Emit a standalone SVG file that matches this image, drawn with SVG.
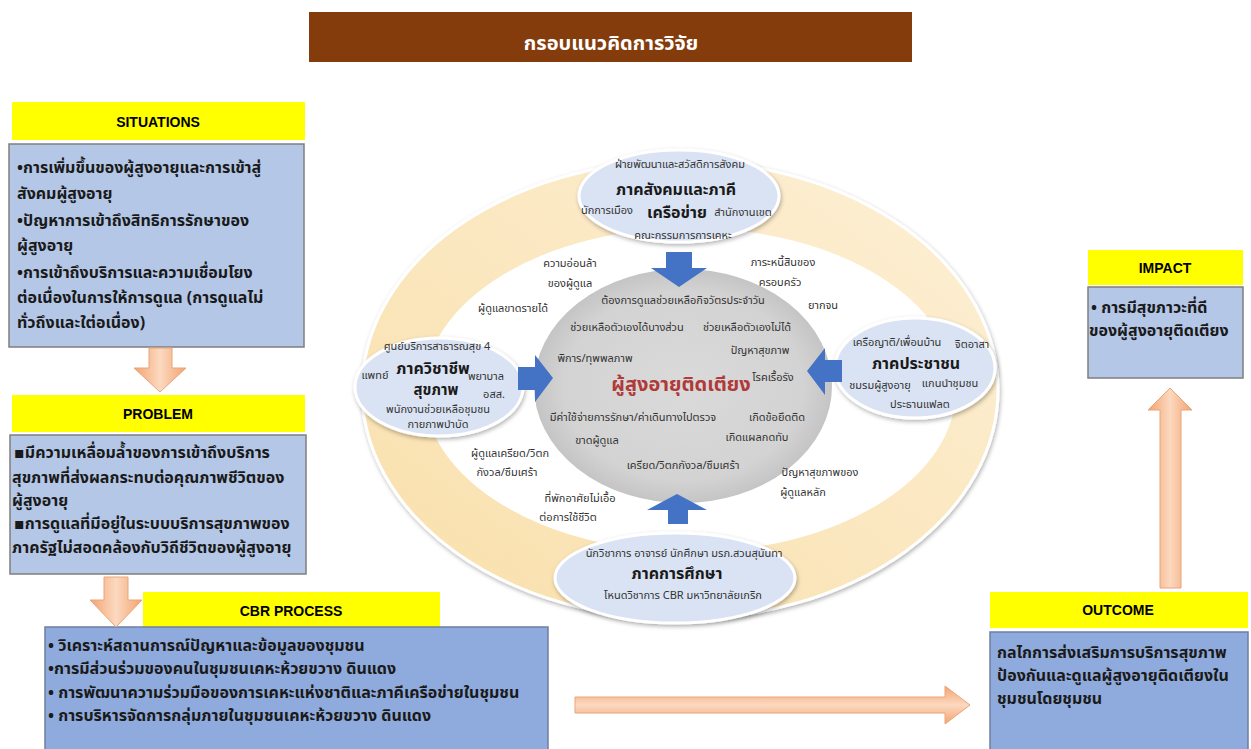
<svg xmlns="http://www.w3.org/2000/svg" width="1251" height="749" viewBox="0 0 1251 749">
<style>
.hd{font-family:"Liberation Sans",Arial,sans-serif;font-weight:bold;font-size:14px;fill:#000;text-anchor:middle}
.bx{font-family:"Noto Sans Thai","Tahoma","DejaVu Sans","Noto Sans",sans-serif;font-weight:bold;font-size:16px;fill:#1a1a1a}
.bx2{font-family:"Noto Sans Thai","Tahoma","DejaVu Sans","Noto Sans",sans-serif;font-weight:bold;font-size:16px;fill:#1a1a1a}
.sm{font-family:"Noto Sans Thai","Tahoma","DejaVu Sans","Noto Sans",sans-serif;font-size:11px;fill:#333;text-anchor:middle}
.lb{font-family:"Noto Sans Thai","Tahoma","DejaVu Sans","Noto Sans",sans-serif;font-weight:bold;font-size:16px;fill:#1a1a1a;text-anchor:middle}
.yel{fill:#FFFF00}
.lbox{fill:#B4C7E7;stroke:#7F7F7F;stroke-width:1.5}
.dbox{fill:#8FAADC;stroke:#6F7F9F;stroke-width:1.5}
.oarr{fill:url(#og);stroke:#E8A57A;stroke-width:1}
.oarrh{fill:url(#ogh);stroke:#E8A57A;stroke-width:1}
.barr{fill:#4472C4}
.ell{fill:#DAE3F3;stroke:#FFFFFF;stroke-width:3;filter:url(#sh)}
</style>
<defs>
<linearGradient id="og" x1="0" y1="0" x2="1" y2="0">
<stop offset="0" stop-color="#F4A36E"/><stop offset="0.5" stop-color="#FBD9C0"/><stop offset="1" stop-color="#F4A36E"/>
</linearGradient>
<linearGradient id="ogh" x1="0" y1="0" x2="0" y2="1">
<stop offset="0" stop-color="#F4A36E"/><stop offset="0.5" stop-color="#FBD9C0"/><stop offset="1" stop-color="#F4A36E"/>
</linearGradient>
<linearGradient id="ring" x1="0" y1="1" x2="1" y2="0">
<stop offset="0" stop-color="#F9DFAA"/><stop offset="1" stop-color="#FDF0D6"/>
</linearGradient>
<radialGradient id="gray" cx="0.5" cy="0.5" r="0.5">
<stop offset="0" stop-color="#DADADA"/><stop offset="0.8" stop-color="#D3D3D3"/><stop offset="1" stop-color="#C4C4C4"/>
</radialGradient>
<filter id="sh" x="-20%" y="-20%" width="140%" height="140%">
<feDropShadow dx="1" dy="2" stdDeviation="2" flood-color="#000" flood-opacity="0.3"/>
</filter>
</defs>

<g id="title">
<rect x="309" y="12" width="603" height="50" fill="#843C0C"/>
<text x="611" y="50" style="font-family:'Noto Sans Thai','Tahoma','DejaVu Sans',sans-serif;font-weight:bold;font-size:20px;fill:#fff;text-anchor:middle">กรอบแนวคิดการวิจัย</text>
</g>

<g id="situations">
<rect class="yel" x="12" y="102" width="293" height="38"/>
<text class="hd" x="158" y="127">SITUATIONS</text>
<rect class="lbox" x="9" y="144" width="295" height="203"/>
<text class="bx" x="17" y="173">•การเพิ่มขึ้นของผู้สูงอายุและการเข้าสู่</text>
<text class="bx" x="17" y="199">สังคมผู้สูงอายุ</text>
<text class="bx" x="17" y="226">•ปัญหาการเข้าถึงสิทธิการรักษาของ</text>
<text class="bx" x="17" y="251">ผู้สูงอายุ</text>
<text class="bx" x="17" y="278">•การเข้าถึงบริการและความเชื่อมโยง</text>
<text class="bx" x="17" y="303">ต่อเนื่องในการให้การดูแล (การดูแลไม่</text>
<text class="bx" x="17" y="328">ทั่วถึงและใต่อเนื่อง)</text>
</g>

<g id="problem">
<rect class="yel" x="12" y="395" width="293" height="37"/>
<text class="hd" x="158" y="419">PROBLEM</text>
<rect class="lbox" x="10" y="435" width="296" height="139"/>
<text class="bx2" x="14" y="458">▪มีความเหลื่อมล้ำของการเข้าถึงบริการ</text>
<text class="bx2" x="12" y="483">สุขภาพที่ส่งผลกระทบต่อคุณภาพชีวิตของ</text>
<text class="bx2" x="12" y="506">ผู้สูงอายุ</text>
<text class="bx2" x="14" y="529">▪การดูแลที่มีอยู่ในระบบบริการสุขภาพของ</text>
<text class="bx2" x="12" y="553">ภาครัฐไม่สอดคล้องกับวิถีชีวิตของผู้สูงอายุ</text>
</g>

<g id="cbr">
<rect class="yel" x="143" y="592" width="297" height="36"/>
<text class="hd" x="291" y="616">CBR PROCESS</text>
<rect class="dbox" x="45" y="627" width="503" height="130"/>
<text class="bx" x="48" y="651">• วิเคราะห์สถานการณ์ปัญหาและข้อมูลของชุมชน</text>
<text class="bx" x="48" y="674">•การมีส่วนร่วมของคนในชุมชนเคหะห้วยขวาง ดินแดง</text>
<text class="bx" x="48" y="698">• การพัฒนาความร่วมมือของการเคหะแห่งชาติและภาคีเครือข่ายในชุมชน</text>
<text class="bx" x="48" y="721">• การบริหารจัดการกลุ่มภายในชุมชนเคหะห้วยขวาง ดินแดง</text>
</g>

<g id="impact">
<rect class="yel" x="1088" y="250" width="155" height="35"/>
<text class="hd" x="1165" y="273">IMPACT</text>
<rect class="lbox" x="1088" y="287" width="155" height="91"/>
<text class="bx" x="1091" y="313">• การมีสุขภาวะที่ดี</text>
<text class="bx" x="1089" y="336">ของผู้สูงอายุติดเตียง</text>
</g>

<g id="outcome">
<rect class="yel" x="990" y="592" width="258" height="36"/>
<text class="hd" x="1118" y="615">OUTCOME</text>
<rect class="dbox" x="990" y="632" width="258" height="125"/>
<text class="bx" x="997" y="658">กลไกการส่งเสริมการบริการสุขภาพ</text>
<text class="bx" x="997" y="681">ป้องกันและดูแลผู้สูงอายุติดเตียงใน</text>
<text class="bx" x="997" y="704">ชุมชนโดยชุมชน</text>
</g>

<g id="ring">
<ellipse cx="680" cy="390" rx="318" ry="229" fill="url(#ring)" stroke="#FFFFFF" stroke-width="3" filter="url(#sh)"/>
<ellipse cx="690" cy="390" rx="266" ry="162" fill="#FFFFFF"/>
</g>

<g id="center">
<ellipse cx="683" cy="386" rx="150" ry="118" fill="url(#gray)" stroke="#FFFFFF" stroke-width="2"/>
<text class="sm" x="683" y="304">ต้องการดูแลช่วยเหลือกิจวัตรประจำวัน</text>
<text class="sm" x="627" y="331">ช่วยเหลือตัวเองได้บางส่วน</text>
<text class="sm" x="747" y="331">ช่วยเหลือตัวเองไม่ได้</text>
<text class="sm" x="760" y="354">ปัญหาสุขภาพ</text>
<text class="sm" x="595" y="362">พิการ/ทุพพลภาพ</text>
<text class="sm" x="773" y="381">โรคเรื้อรัง</text>
<text x="681" y="391" style="font-family:'Noto Sans Thai','Tahoma','DejaVu Sans',sans-serif;font-weight:bold;font-size:20px;fill:#B03A3A;text-anchor:middle">ผู้สูงอายุติดเตียง</text>
<text class="sm" x="633" y="421">มีค่าใช้จ่ายการรักษา/ค่าเดินทางไปตรวจ</text>
<text class="sm" x="777" y="421">เกิดข้อยึดติด</text>
<text class="sm" x="757" y="441">เกิดแผลกดทับ</text>
<text class="sm" x="597" y="444">ขาดผู้ดูแล</text>
<text class="sm" x="683" y="469">เครียด/วิตกกังวล/ซึมเศร้า</text>
</g>

<g id="ringlabels">
<text class="sm" x="570" y="267">ความอ่อนล้า</text>
<text class="sm" x="570" y="287">ของผู้ดูแล</text>
<text class="sm" x="513" y="312">ผู้ดูแลขาดรายได้</text>
<text class="sm" x="783" y="266">ภาระหนี้สินของ</text>
<text class="sm" x="780" y="286">ครอบครัว</text>
<text class="sm" x="823" y="309">ยากจน</text>
<text class="sm" x="510" y="457">ผู้ดูแลเครียด/วิตก</text>
<text class="sm" x="507" y="476">กังวล/ซึมเศร้า</text>
<text class="sm" x="580" y="502">ที่พักอาศัยไม่เอื้อ</text>
<text class="sm" x="568" y="521">ต่อการใช้ชีวิต</text>
<text class="sm" x="820" y="476">ปัญหาสุขภาพของ</text>
<text class="sm" x="803" y="496">ผู้ดูแลหลัก</text>
</g>

<g id="social">
<ellipse class="ell" cx="679" cy="196" rx="100" ry="46"/>
<text class="sm" x="680" y="168">ฝ่ายพัฒนาและสวัสดิการสังคม</text>
<text class="lb" x="676" y="195">ภาคสังคมและภาคี</text>
<text class="lb" x="677" y="218">เครือข่าย</text>
<text class="sm" x="607" y="214">นักการเมือง</text>
<text class="sm" x="743" y="216">สำนักงานเขต</text>
<text class="sm" x="683" y="239">คณะกรรมการการเคหะ</text>
</g>

<g id="health">
<ellipse class="ell" cx="439" cy="387" rx="84" ry="49"/>
<text class="sm" x="437" y="350">ศูนย์บริการสาธารณสุข 4</text>
<text class="lb" x="433" y="374">ภาควิชาชีพ</text>
<text class="sm" x="375" y="379">แพทย์</text>
<text class="sm" x="486" y="380">พยาบาล</text>
<text class="lb" x="436" y="395" style="font-size:15px">สุขภาพ</text>
<text class="sm" x="494" y="398">อสส.</text>
<text class="sm" x="438" y="413">พนักงานช่วยเหลือชุมชน</text>
<text class="sm" x="438" y="428">กายภาพบำบัด</text>
</g>

<g id="people">
<ellipse class="ell" cx="915" cy="368" rx="80" ry="50"/>
<text class="sm" x="897" y="346">เครือญาติ/เพื่อนบ้าน</text>
<text class="sm" x="972" y="348">จิตอาสา</text>
<text class="lb" x="916" y="369">ภาคประชาชน</text>
<text class="sm" x="880" y="389">ชมรมผู้สูงอายุ</text>
<text class="sm" x="950" y="387">แกนนำชุมชน</text>
<text class="sm" x="920" y="408">ประธานแฟลต</text>
</g>

<g id="education">
<ellipse class="ell" cx="675" cy="578" rx="120" ry="45"/>
<text class="sm" x="684" y="557">นักวิชาการ อาจารย์ นักศึกษา มรภ.สวนสุนันทา</text>
<text class="lb" x="677" y="579">ภาคการศึกษา</text>
<text class="sm" x="683" y="599">โหนดวิชาการ CBR มหาวิทยาลัยเกริก</text>
</g>

<g id="connectors">
<polygon class="barr" points="666,252 692,252 692,268 707,268 679,287 651,268 666,268"/>
<polygon class="barr" points="518,367 535,367 535,355 553,378 535,402 535,390 518,390"/>
<polygon class="barr" points="842,360 825,360 825,348 807,371 825,395 825,382 842,382"/>
<polygon class="barr" points="668,524 688,524 688,510 707,510 677,494 647,510 668,510"/>
<polygon class="oarr" points="149,348 172,348 172,368 186,368 160,392 134,368 149,368"/>
<polygon class="oarr" points="104,577 128,577 128,600 142,600 116,627 90,600 104,600"/>
<polygon class="oarrh" points="575,697 945,697 945,686 970,705 945,724 945,713 575,713"/>
<polygon class="oarr" points="1160,588 1181,588 1181,410 1192,410 1170,388 1148,410 1160,410"/>
</g>
</svg>
